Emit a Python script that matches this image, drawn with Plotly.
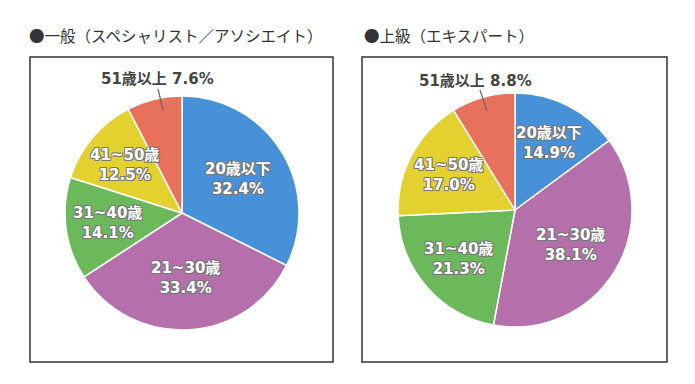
import math
import plotly.graph_objects as go

W, H = 695, 384

categories = ["20歳以下", "21~30歳", "31~40歳", "41~50歳", "51歳以上"]
general_values = [32.4, 33.4, 14.1, 12.5, 7.6]
expert_values = [14.9, 38.1, 21.3, 17.0, 8.8]
titles = ["●一般（スペシャリスト／アソシエイト）", "●上級（エキスパート）"]
colors = ["#4791d8", "#b56fab", "#6bb95a", "#e3d12f", "#e8715b"]

FONT = "Noto Sans CJK JP"
LABEL_FONT = "DejaVu Sans, Noto Sans CJK JP"
shadow = "-1px -1px 0 #777, 1px -1px 0 #777, -1px 1px 0 #777, 1px 1px 0 #777"


def px_x(v):
    return v / W


def px_y(v):
    return 1 - v / H


def make_pie(values, cx, cy, r):
    return go.Pie(
        labels=categories,
        values=values,
        textinfo="none",
        sort=False,
        direction="clockwise",
        rotation=0,
        marker=dict(colors=colors, line=dict(color="white", width=1.5)),
        domain=dict(x=[px_x(cx - r), px_x(cx + r)], y=[px_y(cy + r), px_y(cy - r)]),
        showlegend=False,
        hoverinfo="label+percent",
    )


def inside_labels(values, cx, cy, r):
    anns = []
    total = sum(values)
    cum = 0.0
    for i, (c, v) in enumerate(zip(categories, values)):
        mid = (cum + v / 2) / total * 2 * math.pi
        cum += v
        if i == len(values) - 1:
            continue
        frac = 0.56 if v > 30 else 0.64
        x = cx + frac * r * math.sin(mid)
        y = cy - frac * r * math.cos(mid)
        anns.append(dict(text=f"{c}<br>{v:.1f}%", x=px_x(x), y=px_y(y),
                         xanchor="center", yanchor="middle", xref="paper", yref="paper",
                         showarrow=False,
                         font=dict(family=LABEL_FONT, size=15, color="white",
                                   weight="bold", shadow=shadow)))
    return anns


pies = [(general_values, 182, 213, 117), (expert_values, 515, 210, 117)]

fig = go.Figure()
annotations = []
for vals, cx, cy, r in pies:
    fig.add_trace(make_pie(vals, cx, cy, r))
    annotations += inside_labels(vals, cx, cy, r)

shapes = []
for bx0, by0, bx1, by1 in [(30, 57, 333, 362), (362, 57, 667, 362)]:
    shapes.append(dict(type="rect", xref="paper", yref="paper",
                       x0=px_x(bx0), x1=px_x(bx1), y0=px_y(by1), y1=px_y(by0),
                       line=dict(color="#333333", width=1.5), fillcolor="rgba(0,0,0,0)",
                       layer="below"))
# leader lines for the small slices
for lx0, ly0, lx1, ly1 in [(158, 89, 163, 110), (480, 90, 487, 111)]:
    shapes.append(dict(type="line", xref="paper", yref="paper",
                       x0=px_x(lx0), y0=px_y(ly0), x1=px_x(lx1), y1=px_y(ly1),
                       line=dict(color="#666666", width=1.2)))

annotations += [
    dict(text=titles[0], x=px_x(27), y=px_y(35), xanchor="left", yanchor="middle",
         xref="paper", yref="paper", showarrow=False,
         font=dict(family=FONT, size=15.5, color="#333333")),
    dict(text=titles[1], x=px_x(362), y=px_y(35), xanchor="left", yanchor="middle",
         xref="paper", yref="paper", showarrow=False,
         font=dict(family=FONT, size=15.5, color="#333333")),
    dict(text=f"{categories[4]} {general_values[4]:.1f}%", x=px_x(157), y=px_y(79),
         xanchor="center", yanchor="middle", xref="paper", yref="paper", showarrow=False,
         font=dict(family=LABEL_FONT, size=15, color="#444444", weight="bold")),
    dict(text=f"{categories[4]} {expert_values[4]:.1f}%", x=px_x(475), y=px_y(81),
         xanchor="center", yanchor="middle", xref="paper", yref="paper", showarrow=False,
         font=dict(family=LABEL_FONT, size=15, color="#444444", weight="bold")),
]

fig.update_layout(
    width=W, height=H,
    margin=dict(l=0, r=0, t=0, b=0),
    paper_bgcolor="white",
    plot_bgcolor="white",
    shapes=shapes,
    annotations=annotations,
)

fig.write_html("out.html", config={"displayModeBar": False},
               post_script="document.body.style.margin='0';")
